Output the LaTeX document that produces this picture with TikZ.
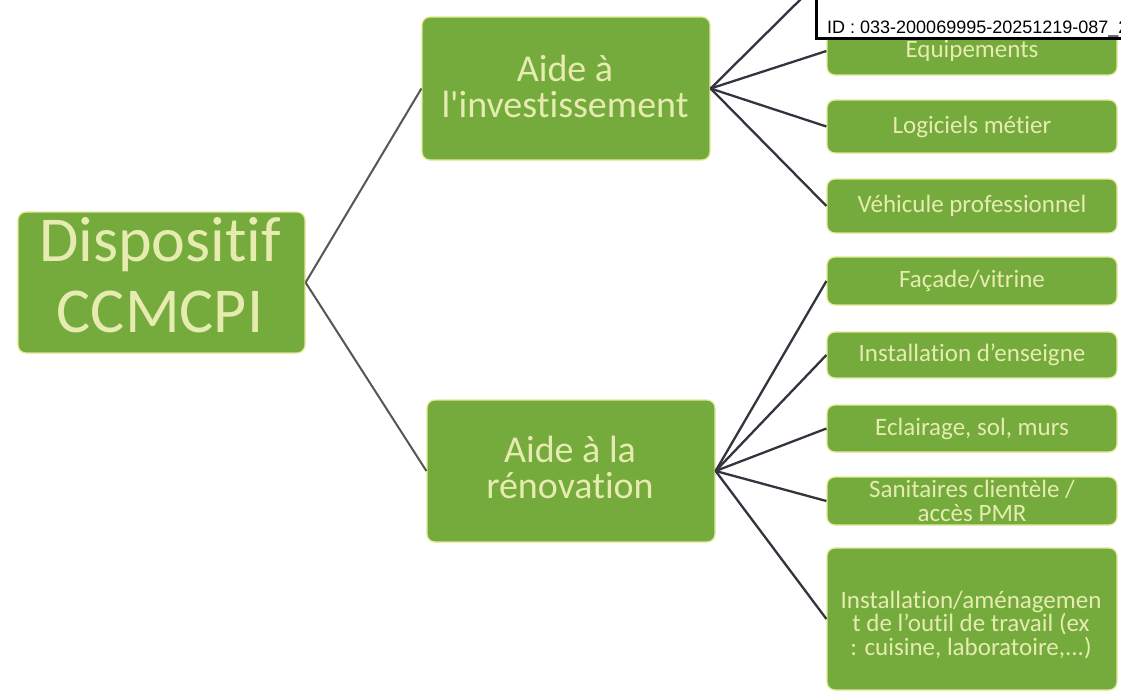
\documentclass[tikz,border=0pt]{standalone}
\usepackage{fontspec}
\setmainfont{Carlito}[Ligatures={TeX,NoCommon}]
\newfontfamily\stampfont{Liberation Sans}
\definecolor{boxgreen}{RGB}{117,170,60}
\definecolor{boxtext}{RGB}{230,236,176}
\definecolor{glow}{RGB}{226,234,150}
\definecolor{mainline}{RGB}{88,86,78}
\definecolor{fanline}{RGB}{52,52,62}
\tikzset{
  box/.style={fill=boxgreen, draw=glow, line width=1.2pt, rounded corners=8pt,
    inner sep=0pt, text=boxtext, align=center},
  leafbox/.style={box, minimum width=290pt, font=\fontsize{25}{24}\selectfont},
  boxlabel/.style={text=boxtext, align=center, inner sep=0pt},
  mainconn/.style={draw=mainline, line width=2pt},
  fanconn/.style={draw=fanline, line width=2.3pt},
}
\begin{document}
\begin{tikzpicture}[x=1pt,y=-1pt]
\useasboundingbox (0,0) rectangle (1121,696);
\clip (0,0) rectangle (1121,696);
\fill[white] (0,0) rectangle (1121,696);

% root
\node[box, minimum width=287pt, minimum height=141pt] (disp) at (161.5,282.5) {};
\node[boxlabel, font=\fontsize{64}{71}\selectfont] (dispT) at (160,275) {Dispositif\\CCMCPI};

% middle
\node[box, minimum width=288pt, minimum height=143pt] (inv) at (566,88.5) {};
\node[boxlabel, font=\fontsize{38}{36}\selectfont] (invT) at (565,86) {Aide à\\l\textquotesingle investissement};
\node[box, minimum width=288pt, minimum height=142pt] (ren) at (571,471) {};
\node[boxlabel, font=\fontsize{38}{36}\selectfont] (renT) at (570,467) {Aide à la\\rénovation};

% leaves
\node[leafbox, minimum height=48pt] (equip) at (972,51) {Equipements};
\node[leafbox, minimum height=53pt] (log) at (972,126.5) {Logiciels métier};
\node[leafbox, minimum height=54pt] (veh) at (972,206) {Véhicule professionnel};
\node[leafbox, minimum height=48pt] (fac) at (972,281) {Façade/vitrine};
\node[leafbox, minimum height=46pt] (ens) at (972,355) {Installation d'enseigne};
\node[leafbox, minimum height=47pt] (ecl) at (972,428.5) {Eclairage, sol, murs};
\node[leafbox, minimum height=48pt] (san) at (972,501) {Sanitaires clientèle /\\accès PMR};
\node[leafbox, minimum height=142pt] (inst) at (972,619) {};
\node[boxlabel, font=\fontsize{25}{23.5}\selectfont] (instT) at (971,625) {Installation/aménagemen\\t de l’outil de travail (ex\\: cuisine, laboratoire,...)};

\coordinate (topend) at (810,-10);

% connectors
\draw[mainconn] (disp.east) -- (inv.west);
\draw[mainconn] (disp.east) -- (ren.west);
\draw[fanconn] (inv.east) -- (topend);
\draw[fanconn] (inv.east) -- (equip.west);
\draw[fanconn] (inv.east) -- (log.west);
\draw[fanconn] (inv.east) -- (veh.west);
\draw[fanconn] (ren.east) -- (fac.west);
\draw[fanconn] (ren.east) -- (ens.west);
\draw[fanconn] (ren.east) -- (ecl.west);
\draw[fanconn] (ren.east) -- (san.west);
\draw[fanconn] (ren.east) -- (inst.west);

% stamp
\node[draw=black, line width=3pt, fill=white, inner sep=0pt, minimum width=330pt,
  minimum height=60pt, anchor=south west] (stamp) at (815,40) {};
\node[anchor=base west, inner sep=0pt, font=\stampfont\fontsize{18}{18}\selectfont] (stampid)
  at (827,33) {ID : 033-200069995-20251219-087\_2};
\end{tikzpicture}
\end{document}
